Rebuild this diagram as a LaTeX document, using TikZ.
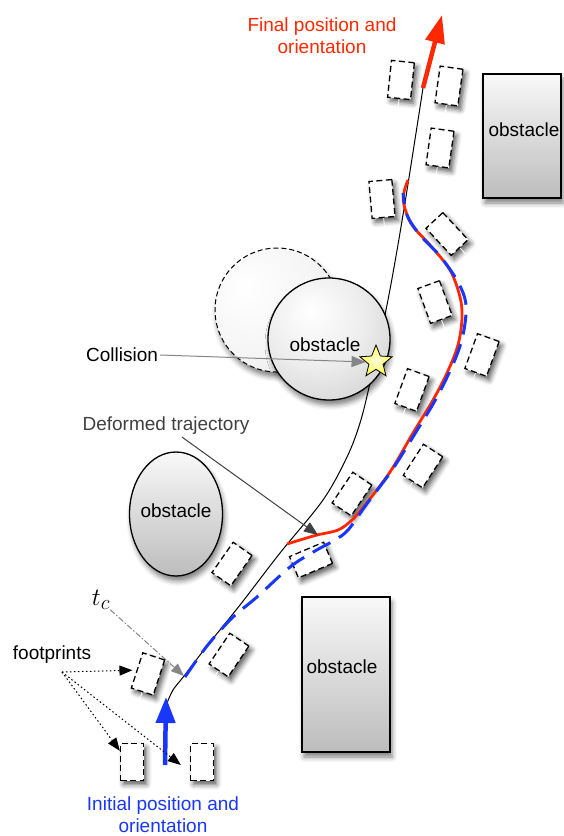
\documentclass[tikz,border=0pt]{standalone}
\usepackage{fontspec}
\setmainfont{Liberation Sans}
\usetikzlibrary{arrows.meta,shapes.geometric,shadows.blur,calc}
\definecolor{tred}{RGB}{255,40,0}
\definecolor{tblue}{RGB}{25,55,250}
\pgfdeclareradialshading{obsball}{\pgfpoint{-8bp}{12bp}}{color(0bp)=(white); color(20bp)=(gray!14); color(48bp)=(gray!48); color(70bp)=(gray!58)}
\pgfdeclareradialshading{ghostball}{\pgfpoint{-14bp}{10bp}}{color(0bp)=(white); color(25bp)=(gray!8); color(50bp)=(gray!28); color(70bp)=(gray!35)}
\begin{document}
\begin{tikzpicture}[x=1pt,y=-1pt,
  every node/.style={font=\fontsize{19}{22}\selectfont},
  obsshadow/.style={blur shadow={shadow xshift=2pt,shadow yshift=-5pt,shadow blur radius=5pt,shadow opacity=50}},
  obsrect/.style={draw=black,line width=1.3pt,top color=gray!5,bottom color=gray!52,obsshadow,inner sep=0pt},
  fp/.style={draw=black,fill=white,line width=1.3pt,dash pattern=on 6pt off 3.5pt,minimum width=23pt,minimum height=37pt,inner sep=0pt,
    blur shadow={shadow xshift=3pt,shadow yshift=-4pt,shadow blur radius=5pt,shadow opacity=65}},
  fptail/.style={white,line width=0.8pt},
  lbl/.style={inner sep=2pt},
  grayarrow/.style={draw=gray!95,line width=1pt,-{Triangle[length=14pt,width=11pt]}},
  defarrow/.style={draw=black!75,line width=1pt,-{Triangle[length=14pt,width=11pt]}},
  tcarrow/.style={draw=gray!95,line width=1pt,dash pattern=on 6pt off 2pt on 1.5pt off 2pt,-{Triangle[length=13pt,width=10pt]}},
  fparrow/.style={draw=black,line width=1pt,dash pattern=on 1.5pt off 2.5pt,-{Triangle[length=13pt,width=10pt]}},
  bigred/.style={draw=tred,line width=4.5pt,-{Triangle[length=28pt,width=19pt]}},
  bigblue/.style={draw=tblue,line width=4.5pt,-{Triangle[length=26pt,width=19pt]}}
]
\useasboundingbox (0,0) rectangle (563,836);

% footprints
\node[fp] (f1) at (132,762) {};
\node[fp] (f2) at (202,762) {};
\node[fp,rotate=-18] (f3) at (148,674) {};
\node[fp,rotate=-34] (f4) at (229,655) {};
\node[fp,rotate=-35] (f5) at (232,564) {};
\node[fp,rotate=-67] (f6) at (311,560) {};
\node[fp,rotate=-34] (f7) at (352,494) {};
\node[fp,rotate=-33] (f8) at (423,466) {};
\node[fp,rotate=-20] (f9) at (412,390) {};
\node[fp,rotate=-20] (f10) at (482,355) {};
\node[fp,rotate=20] (f11) at (435,302) {};
\node[fp,rotate=43] (f12) at (447,234) {};
\node[fp,rotate=5] (f13) at (382,199) {};
\node[fp,rotate=-6] (f14) at (401,80) {};
\node[fp,rotate=-8] (f15) at (449,86) {};
\node[fp,rotate=-8] (f16) at (440,148) {};
\foreach \n in {f3,f4,f5,f7,f8,f9,f10,f11,f12,f13,f14,f15,f16}
  \draw[fptail] (\n.south) -- ($(\n.south)!-0.35!(\n.north)$);

% obstacles (rectangles, ellipse)
\node[obsrect,minimum width=78pt,minimum height=124pt] (o1) at (522,136) {};
\node[obsrect,minimum width=88pt,minimum height=155pt] (o2) at (346,674.5) {};
\node[ellipse,draw=black,line width=1.3pt,top color=gray!5,bottom color=gray!52,obsshadow,minimum width=93pt,minimum height=124pt,inner sep=0pt] (o3) at (176,514) {};

% original trajectory
\draw[black,line width=1pt] plot[smooth,tension=0.55] coordinates {(167,703) (173,690) (184,676) (207,646) (240,605) (280,553) (323,500) (347,457) (360,423) (370,383) (387,305) (403,215) (423,88)};

% circular obstacle (moved) and ghost
\node[circle,draw=black,line width=1pt,dash pattern=on 5pt off 3pt,shading=ghostball,obsshadow,minimum size=124pt,inner sep=0pt] (g) at (277,310) {};
\node[circle,draw=black,line width=1.3pt,shading=obsball,obsshadow,minimum size=122pt,inner sep=0pt] (o4) at (329,339) {};

% labels of obstacles
\node[lbl] (o1l) at (524,130) {obstacle};
\node[lbl] (o2l) at (342,667) {obstacle};
\node[lbl] (o3l) at (176,511) {obstacle};
\node[lbl] (o4l) at (325,345) {obstacle};

% deformed trajectory (red) and dashed blue
\draw[tred,line width=2.8pt] plot[smooth,tension=0.55] coordinates {(287,544) (300,540) (317,535) (338,530) (352,520) (365,505) (390,472) (413,433) (433,400) (447,373) (458,345) (462,318) (460,297) (450,270) (430,245) (412,225) (404,205) (404,192) (408,180)};
\draw[tblue,line width=3pt,dash pattern=on 20pt off 10pt] plot[smooth,tension=0.55] coordinates {(185,677) (207,646) (232,618) (257,597) (290,567) (315,551) (335,540) (348,530) (366,505) (392,470) (416,432) (437,397) (454,362) (463,335) (466,305) (458,282) (440,256) (420,235) (407,215) (403,193)};

% initial / final pose arrows
\coordinate (ibase) at (165,765);
\coordinate (itip) at (166,697);
\draw[bigblue] (ibase) -- (itip);
\coordinate (fbase) at (423,88);
\coordinate (ftip) at (442,15);
\draw[bigred] (fbase) -- (ftip);

\node[text=tred,align=center] (fin) at (322,36) {Final position and\\orientation};
\node[text=tblue,align=center] (ini) at (163,815) {Initial position and\\orientation};

% collision
\node[lbl] (coll) at (122,355) {Collision};
\node[star,star points=5,star point ratio=2.3,minimum size=34pt,inner sep=0pt,draw=black,line width=0.8pt,inner color=yellow!10,outer color=yellow!75] (star) at (376,362) {};
\draw[grayarrow] (coll.east) -- (star.west);

% deformed trajectory label
\node[lbl,text=black!75] (def) at (166,426) {Deformed trajectory};
\coordinate (defpt) at (318,535);
\draw[defarrow] ([xshift=16pt]def.south) -- (defpt);

% t_c
\node[lbl] (tc) at (101,600) {\fontsize{32}{34}\selectfont$t_c$};
\coordinate (tcpt) at (184,676);
\draw[tcarrow] ([xshift=-2pt,yshift=2pt]tc.south east) -- (tcpt);

% footprints label
\node[lbl] (fpl) at (52,655) {footprints};
\coordinate (fpsrc) at (62,672);
\draw[fparrow] (fpsrc) -- ([xshift=-4pt]f3.west);
\draw[fparrow] (fpsrc) -- ([yshift=-8pt]f1.north west);
\draw[fparrow] (fpsrc) -- ([xshift=-9pt,yshift=-3pt]f2.west);
\end{tikzpicture}
\end{document}
